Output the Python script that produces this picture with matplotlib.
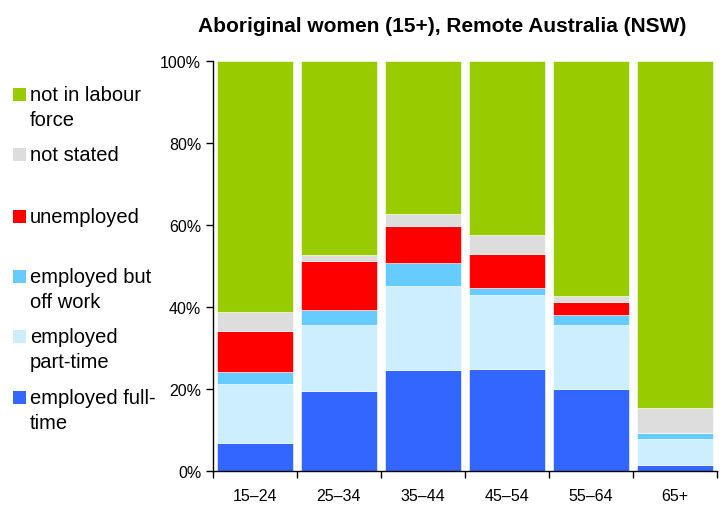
"""Labour force status of Aboriginal women by age, remote NSW."""

import matplotlib

matplotlib.use("Agg")
import matplotlib.pyplot as plt
import numpy as np
from matplotlib.patches import Rectangle

AGE_GROUPS = ["15\u201324", "25\u201334", "35\u201344", "45\u201354", "55\u201364", "65+"]

# shares in percent, bottom to top
FULL_TIME = [6.8, 19.4, 24.7, 24.8, 19.9, 1.5]
PART_TIME = [14.4, 16.1, 20.4, 18.0, 15.6, 6.3]
OFF_WORK = [2.9, 3.7, 5.6, 1.9, 2.5, 1.6]
UNEMPLOYED = [10.0, 12.1, 9.1, 8.3, 3.3, 0.0]
NOT_STATED = [4.6, 1.4, 2.9, 4.6, 1.4, 6.0]
NOT_IN_LF = [61.3, 47.3, 37.3, 42.4, 57.3, 84.6]

SERIES = [
    ("employed full-\ntime", FULL_TIME, "#3366ff"),
    ("employed\npart-time", PART_TIME, "#cceeff"),
    ("employed but\noff work", OFF_WORK, "#66ccff"),
    ("unemployed", UNEMPLOYED, "#ff0000"),
    ("not stated", NOT_STATED, "#dddddd"),
    ("not in labour\nforce", NOT_IN_LF, "#99cc00"),
]

plt.rcParams["font.family"] = ["Liberation Sans", "DejaVu Sans"]

fig = plt.figure(figsize=(7.27, 5.06), dpi=100, facecolor="white")
ax = fig.add_axes([0.293, 0.067, 0.693, 0.811])

x = np.arange(len(AGE_GROUPS))
bottom = np.zeros(len(AGE_GROUPS))
for label, values, color in SERIES:
    ax.bar(x, values, width=0.91, bottom=bottom, color=color, edgecolor="white", linewidth=0.4)
    bottom += np.array(values)

ax.set_xlim(-0.5, len(AGE_GROUPS) - 0.5)
ax.set_ylim(0, 100)
ax.set_yticks([0, 20, 40, 60, 80, 100], ["0%", "20%", "40%", "60%", "80%", "100%"])
ax.set_xticks(x, AGE_GROUPS)
ax.set_xticks(np.arange(-0.5, len(AGE_GROUPS)), minor=True)
ax.tick_params(axis="x", which="major", length=0, pad=12, labelsize=11.5)
ax.tick_params(axis="x", which="minor", length=5, width=1)
ax.tick_params(axis="y", length=5, width=1, labelsize=11.5)
ax.spines[["top", "right"]].set_visible(False)
ax.spines[["left", "bottom"]].set_linewidth(1)

fig.text(0.608, 1 - 26 / 506, "Aboriginal women (15+), Remote Australia (NSW)",
         ha="center", va="center", fontsize=15, fontweight="bold")

# legend drawn by hand on the left, top item first
legend_y = [95, 155, 217, 277, 337, 398]
for (label, _, color), ypix in zip(reversed(SERIES), legend_y):
    yf = 1 - ypix / 506
    fig.patches.append(Rectangle((13 / 727, yf - 6.5 / 506), 13 / 727, 13 / 506,
                                 transform=fig.transFigure, facecolor=color, edgecolor="none"))
    fig.text(30 / 727, yf + 9 / 506, label, ha="left", va="top", fontsize=14.5, linespacing=1.42)

fig.savefig("out.png", dpi=100, facecolor="white")
